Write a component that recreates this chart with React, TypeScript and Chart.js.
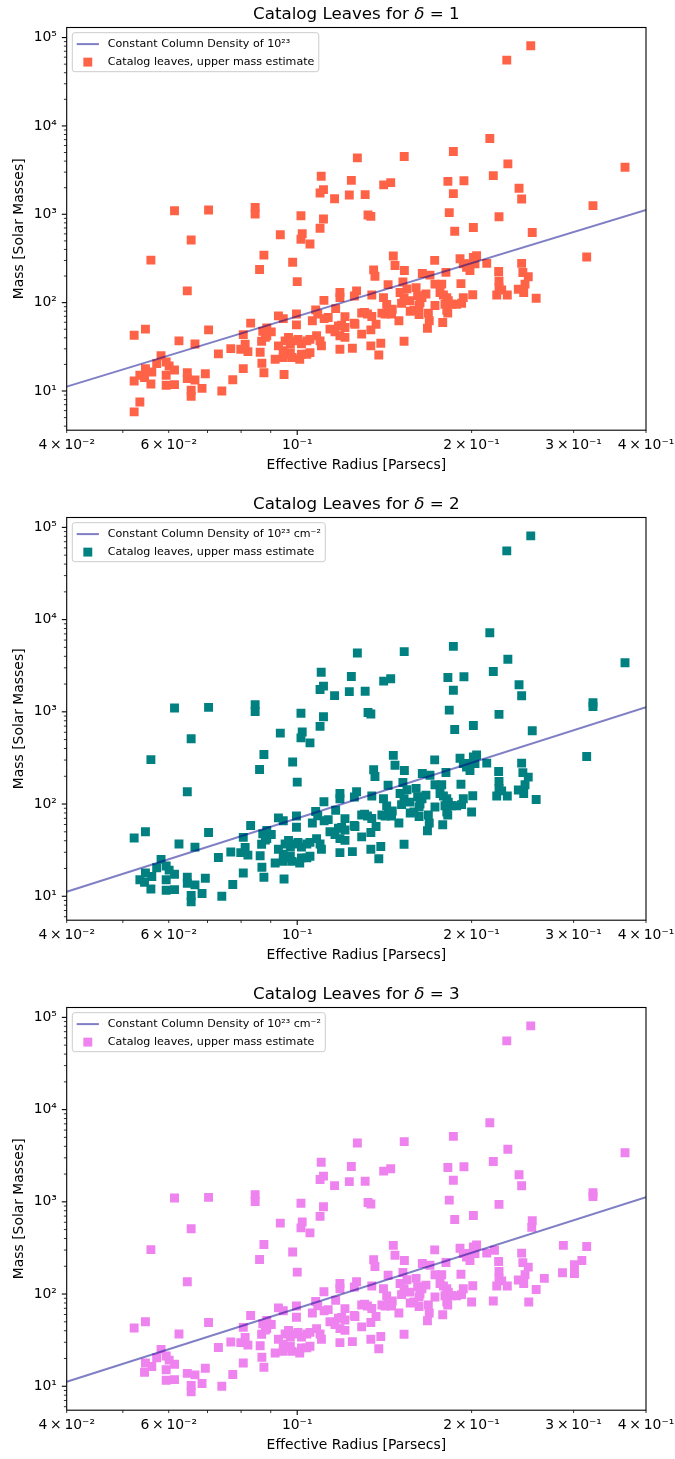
import React, { useEffect, useRef } from 'react';
import Chart from 'chart.js/auto';

document.body.style.margin = '0';
document.body.style.overflow = 'hidden';

const FONT = "'DejaVu Sans', sans-serif";
Chart.defaults.font.family = FONT;
Chart.defaults.color = '#000';

// constant column density line (10^23 cm^-2), two end points
const lineRadius = [0.04, 0.4];
const lineMass = [11.2, 1120];

// [radius pc, mass Msun] -- leaves present in all three panels
const upperBranch: number[][] = [
  [0.253, 80900], [0.230, 55600], [0.215, 7200], [0.186, 5130], [0.231, 3720],
  [0.368, 3400], [0.127, 4350], [0.153, 4500], [0.124, 2420], [0.182, 2360],
  [0.194, 2400], [0.218, 2740], [0.116, 1500], [0.123, 1655], [0.131, 1670],
  [0.141, 2150], [0.145, 2280], [0.186, 1713], [0.2415, 1967], [0.244, 1491],
  [0.324, 1252], [0.183, 1043], [0.1325, 982], [0.134, 946], [0.223, 939],
  [0.0614, 1098], [0.0703, 1118], [0.0846, 1197], [0.0846, 1008], [0.1015, 964],
  [0.110, 2690], [0.1095, 1744], [0.111, 1901], [0.111, 885], [0.1095, 696],
  [0.187, 643], [0.2014, 710], [0.2545, 623], [0.0656, 511], [0.0935, 587],
  [0.102, 604], [0.1015, 522], [0.1052, 461], [0.0559, 303], [0.0876, 345],
  [0.0861, 237], [0.0982, 286], [0.100, 173], [0.0646, 136], [0.316, 328],
];

const cloudLeft: number[][] = [
  [0.0523, 42.8], [0.0547, 50.1], [0.0703, 49.2], [0.0831, 58.6], [0.0807, 43.5],
  [0.0625, 36.9], [0.0872, 47.5], [0.0886, 51.8], [0.0868, 36.6], [0.0881, 40.6],
  [0.0813, 33.8], [0.0768, 30.2], [0.0799, 29.7], [0.0822, 27.9], [0.0731, 26.3],
  [0.0863, 27.5], [0.0582, 25.1], [0.0572, 20.4], [0.0594, 21.3], [0.0601, 19.2],
  [0.0614, 17.3], [0.0547, 17.9], [0.0561, 16.4], [0.0545, 14.2], [0.0594, 15.1],
  [0.0646, 13.8], [0.0694, 15.7], [0.0807, 17.9], [0.0869, 20.6], [0.0876, 16.1],
  [0.0594, 11.6], [0.0614, 11.8], [0.0666, 13.3], [0.0774, 13.4], [0.0685, 10.7],
  [0.0656, 10.2], [0.0656, 8.7], [0.0741, 10.0],
];

const cloudMiddle: number[][] = [
  [0.1185, 130], [0.1185, 114], [0.1112, 106], [0.1266, 136], [0.1255, 119],
  [0.1345, 122], [0.1465, 337], [0.1475, 263], [0.1531, 231], [0.1355, 235],
  [0.1362, 199], [0.1644, 214], [0.1435, 160], [0.1522, 171], [0.1547, 143],
  [0.1505, 130], [0.1529, 114], [0.1514, 98.5], [0.1565, 105], [0.1604, 148],
  [0.1614, 120], [0.1623, 93], [0.1590, 82], [0.1567, 80], [0.1623, 73.4],
  [0.1076, 82.9], [0.1085, 74.5], [0.1165, 85.6], [0.1209, 69.5], [0.0928, 70.8],
  [0.0946, 66.0], [0.0997, 74.3], [0.0997, 56.0], [0.1062, 62.3], [0.1113, 66.0],
  [0.1131, 67.8], [0.1193, 55.6], [0.1209, 52.3], [0.1254, 58.6], [0.1292, 76.2],
  [0.1307, 77.4], [0.1322, 74.3], [0.1345, 69.8], [0.1368, 57.0], [0.1498, 62.3],
  [0.1139, 50.1], [0.1162, 46.7], [0.1178, 54.6], [0.1185, 42.2], [0.1209, 40.4],
  [0.1340, 49.2], [0.1292, 44.0], [0.0902, 46.7], [0.0886, 42.2], [0.1258, 57.0],
  [0.1400, 76.0], [0.1418, 74.3], [0.1455, 74.3], [0.1409, 114], [0.1427, 95.5],
  [0.1437, 83.0], [0.1459, 84.0],
];

const cloudDense: number[][] = [
  [0.0928, 32.4], [0.0953, 36.9], [0.0966, 40.4], [0.0973, 34.2], [0.0987, 36.9],
  [0.1003, 38.4], [0.1017, 34.2], [0.1039, 36.9], [0.1052, 38.4], [0.1080, 42.2],
  [0.1095, 36.9], [0.1101, 32.4], [0.0946, 28.5], [0.0959, 26.1], [0.0973, 27.2],
  [0.0916, 22.9], [0.0946, 23.9], [0.0980, 23.9], [0.1010, 22.9], [0.1017, 26.1],
  [0.1039, 26.1], [0.1052, 27.2], [0.1185, 29.7], [0.1245, 30.5], [0.1340, 32.4],
  [0.1394, 34.7], [0.1383, 25.5], [0.1529, 36.6],
];

const cloudRight: number[][] = [
  [0.1727, 301], [0.1910, 314], [0.1935, 275], [0.1960, 252], [0.1987, 231],
  [0.2014, 325], [0.2027, 275], [0.2040, 340], [0.1992, 275], [0.2124, 278],
  [0.2227, 225], [0.2440, 278], [0.2452, 219], [0.2505, 196], [0.2230, 176],
  [0.2230, 148], [0.2254, 139], [0.2210, 122], [0.2305, 122], [0.2408, 142],
  [0.2460, 130], [0.2473, 162], [0.2585, 112], [0.1695, 205], [0.1806, 220],
  [0.1729, 162], [0.1776, 162], [0.1917, 164], [0.1668, 125], [0.1642, 114],
  [0.1629, 100], [0.1764, 130], [0.1788, 122], [0.1812, 114], [0.1823, 105],
  [0.1799, 96], [0.1847, 96], [0.1885, 96], [0.1922, 98.5], [0.1935, 114],
  [0.2009, 123], [0.1729, 93], [0.1812, 82], [0.1819, 76], [0.1684, 76],
  [0.1690, 62.3], [0.1678, 51.4], [0.1783, 59.7],
];

// leaves that differ between the delta panels
const onlyDelta1: number[][] = [[0.0523, 13.0], [0.0535, 7.5], [0.0523, 5.8]];
const delta1And2: number[][] = [[0.0666, 34.1], [0.0535, 15.1], [0.0646, 16.1], [0.0559, 12.0], [0.0949, 15.4]];
const delta2And3: number[][] = [[0.200, 82], [0.324, 1140]];
const onlyDelta3: number[][] = [
  [0.254, 528], [0.288, 337], [0.287, 170], [0.301, 208], [0.301, 167],
  [0.310, 231], [0.267, 148], [0.251, 82], [0.218, 84], [0.219, 298],
];

const commonLeaves = [...upperBranch, ...cloudLeft, ...cloudMiddle, ...cloudDense, ...cloudRight];

// ticks
const xTickValues = [0.04, 0.05, 0.06, 0.07, 0.08, 0.09, 0.1, 0.2, 0.3, 0.4];
const xTickLabels = ['4\u2009×\u200910⁻²', '', '6\u2009×\u200910⁻²', '', '', '', '10⁻¹', '2\u2009×\u200910⁻¹', '3\u2009×\u200910⁻¹', '4\u2009×\u200910⁻¹'];
const yDecades = [1, 10, 100, 1000, 10000, 100000];
const yDecadeLabels = ['10⁰', '10¹', '10²', '10³', '10⁴', '10⁵'];
const yMinorSteps = [1, 2, 3, 4, 5, 6, 7, 8, 9];

interface Panel {
  delta: number;
  color: string;
  lineLabel: string;
  yMin: number;
  yMax: number;
  height: number;
  leaves: number[][];
}

const panels: Panel[] = [
  { delta: 1, color: '#ff6347', lineLabel: 'Constant Column Density of 10²³', yMin: 3.6, yMax: 1.3e5, height: 490,
    leaves: [...commonLeaves, ...onlyDelta1, ...delta1And2] },
  { delta: 2, color: '#008080', lineLabel: 'Constant Column Density of 10²³ cm⁻²', yMin: 5.5, yMax: 1.28e5, height: 490,
    leaves: [...commonLeaves, ...delta1And2, ...delta2And3] },
  { delta: 3, color: '#ee82ee', lineLabel: 'Constant Column Density of 10²³ cm⁻²', yMin: 5.5, yMax: 1.28e5, height: 479,
    leaves: [...commonLeaves, ...delta2And3, ...onlyDelta3] },
];

const AREA_TOP = 27.5;
const AREA_LEFT = 66.7;
const AREA_RIGHT_PAD = 29;
const AREA_BOTTOM = 430.2;
const LINE_COLOR = 'rgba(0, 0, 139, 0.5)';

const isDecade = (v: number) => Math.abs(Math.log10(v) - Math.round(Math.log10(v))) < 1e-9;

const makeDecor = (panel: Panel) => ({
  id: 'decor',
  afterDatasetsDraw(chart: any) {
    const { ctx, chartArea: a, scales } = chart;
    ctx.save();
    ctx.strokeStyle = '#000';
    for (const t of scales.x.ticks) {
      const p = scales.x.getPixelForValue(t.value);
      const major = isDecade(t.value);
      ctx.lineWidth = major ? 1.1 : 0.8;
      ctx.beginPath();
      ctx.moveTo(p, a.bottom);
      ctx.lineTo(p, a.bottom + (major ? 4.9 : 2.8));
      ctx.stroke();
    }
    for (const t of scales.y.ticks) {
      const p = scales.y.getPixelForValue(t.value);
      const major = isDecade(t.value);
      ctx.lineWidth = major ? 1.1 : 0.8;
      ctx.beginPath();
      ctx.moveTo(a.left, p);
      ctx.lineTo(a.left - (major ? 4.9 : 2.8), p);
      ctx.stroke();
    }
    ctx.lineWidth = 1.1;
    ctx.strokeRect(a.left, a.top, a.right - a.left, a.bottom - a.top);
    ctx.restore();
  },
  afterDraw(chart: any) {
    const { ctx, chartArea: a } = chart;
    ctx.save();
    // legend
    const fs = 11.1;
    ctx.font = `${fs}px ${FONT}`;
    const texts = [panel.lineLabel, 'Catalog leaves, upper mass estimate'];
    const tw = Math.max(...texts.map((t) => ctx.measureText(t).width));
    const pad = 4.4, handle = 22.2, gap = 8.9;
    const bx = a.left + 5.6, by = a.top + 5.2;
    const w = pad + handle + gap + tw + pad, h = 39;
    ctx.beginPath();
    ctx.roundRect(bx, by, w, h, 2.5);
    ctx.fillStyle = 'rgba(255,255,255,0.8)';
    ctx.fill();
    ctx.strokeStyle = '#cccccc';
    ctx.lineWidth = 1;
    ctx.stroke();
    const r1 = by + 11.4, r2 = by + 29.4;
    ctx.strokeStyle = LINE_COLOR;
    ctx.lineWidth = 2;
    ctx.beginPath();
    ctx.moveTo(bx + pad, r1);
    ctx.lineTo(bx + pad + handle, r1);
    ctx.stroke();
    ctx.fillStyle = panel.color;
    const side = 8.9;
    ctx.fillRect(bx + pad + handle / 2 - side / 2, r2 - side / 2, side, side);
    ctx.fillStyle = '#000';
    ctx.textBaseline = 'middle';
    ctx.textAlign = 'left';
    ctx.fillText(texts[0], bx + pad + handle + gap, r1);
    ctx.fillText(texts[1], bx + pad + handle + gap, r2);
    // title with italic delta
    const parts: [string, string][] = [
      ['Catalog Leaves for ', 'normal'],
      ['δ', 'italic'],
      [` = ${panel.delta}`, 'normal'],
    ];
    const tfs = 16.7;
    const widths = parts.map(([s, st]) => {
      ctx.font = `${st} ${tfs}px ${FONT}`;
      return ctx.measureText(s).width;
    });
    let x = (a.left + a.right) / 2 - widths.reduce((p, c) => p + c, 0) / 2;
    ctx.textBaseline = 'alphabetic';
    parts.forEach(([s, st], i) => {
      ctx.font = `${st} ${tfs}px ${FONT}`;
      ctx.fillText(s, x, 18.5);
      x += widths[i];
    });
    ctx.restore();
  },
});

const LeafChart: React.FC<{ panel: Panel }> = ({ panel }) => {
  const canvasRef = useRef<HTMLCanvasElement>(null);
  const chartRef = useRef<Chart | null>(null);

  useEffect(() => {
    if (!canvasRef.current) return;
    if (chartRef.current) chartRef.current.destroy();
    const H = panel.height;

    chartRef.current = new Chart(canvasRef.current, {
      type: 'scatter',
      data: {
        datasets: [
          {
            label: panel.lineLabel,
            data: lineRadius.map((r, i) => ({ x: r, y: lineMass[i] })),
            showLine: true,
            borderColor: LINE_COLOR,
            borderWidth: 2,
            pointRadius: 0,
            fill: false,
          },
          {
            label: 'Catalog leaves, upper mass estimate',
            data: panel.leaves.map(([r, m]) => ({ x: r, y: m })),
            pointStyle: 'rect',
            pointRadius: 6.3,
            pointHoverRadius: 6.3,
            backgroundColor: panel.color,
            borderColor: panel.color,
            borderWidth: 0,
          },
        ],
      },
      options: {
        animation: false,
        responsive: true,
        maintainAspectRatio: false,
        events: [],
        layout: { padding: { top: AREA_TOP, right: AREA_RIGHT_PAD, left: 0, bottom: 0 } },
        plugins: {
          legend: { display: false },
          title: { display: false },
          tooltip: { enabled: false },
        },
        scales: {
          x: {
            type: 'logarithmic',
            min: 0.04,
            max: 0.4,
            bounds: 'data',
            grid: { display: false, drawTicks: true, tickLength: 4.9 },
            border: { display: false },
            ticks: {
              autoSkip: false,
              maxRotation: 0,
              minRotation: 0,
              padding: 1.7,
              color: '#000',
              font: { size: 13.9 },
              callback: (_v: any, i: number) => xTickLabels[i] ?? '',
            },
            afterBuildTicks: (s: any) => {
              s.ticks = xTickValues.map((v) => ({ value: v }));
            },
            afterFit: (s: any) => {
              s.height = H - AREA_BOTTOM;
              s.paddingLeft = 0;
              s.paddingRight = 0;
            },
            title: {
              display: true,
              text: 'Effective Radius [Parsecs]',
              color: '#000',
              font: { size: 13.9 },
              padding: { top: 0, bottom: H - 465 - 8.34 },
            },
          },
          y: {
            type: 'logarithmic',
            min: panel.yMin,
            max: panel.yMax,
            bounds: 'data',
            grid: { display: false, drawTicks: true, tickLength: 4.9 },
            border: { display: false },
            ticks: {
              autoSkip: false,
              padding: 4.9,
              color: '#000',
              font: { size: 13.9 },
              callback: (_v: any, i: number, ticks: any[]) => {
                const k = yDecades.indexOf(ticks[i].value);
                return k >= 0 ? yDecadeLabels[k] : '';
              },
            },
            afterBuildTicks: (s: any) => {
              const list: { value: number }[] = [];
              yDecades.forEach((d) => {
                yMinorSteps.forEach((m) => {
                  const v = m * d;
                  if (v >= panel.yMin && v <= panel.yMax) list.push({ value: v });
                });
              });
              s.ticks = list;
            },
            afterFit: (s: any) => {
              s.width = AREA_LEFT;
            },
            title: {
              display: true,
              text: 'Mass [Solar Masses]',
              color: '#000',
              font: { size: 13.9 },
              padding: { top: 11.5, bottom: 0 },
            },
          },
        },
      } as any,
      plugins: [makeDecor(panel)],
    });

    return () => {
      if (chartRef.current) {
        chartRef.current.destroy();
        chartRef.current = null;
      }
    };
  }, [panel]);

  return (
    <div style={{ position: 'relative', width: 675, height: panel.height }}>
      <canvas ref={canvasRef}></canvas>
    </div>
  );
};

const App: React.FC = () => (
  <div style={{ width: 675, background: '#fff' }}>
    {panels.map((p) => (
      <LeafChart key={p.delta} panel={p} />
    ))}
  </div>
);

export default App;
